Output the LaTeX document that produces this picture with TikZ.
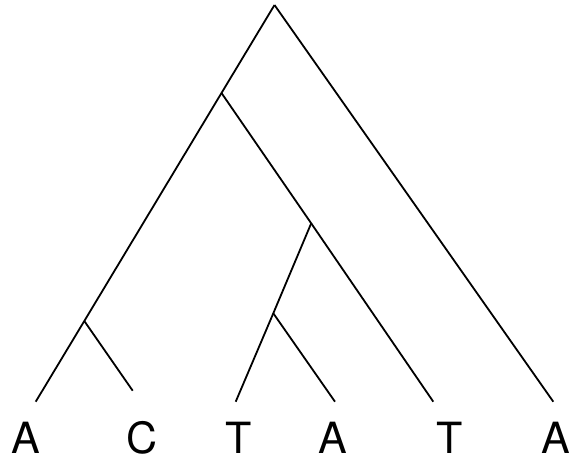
\documentclass[tikz,border=0pt]{standalone}
\usepackage{fontspec}
\setmainfont{TeX Gyre Heros}
\usepackage{tikz}
\usetikzlibrary{positioning}

\begin{document}
\begin{tikzpicture}[
  x=1pt, y=-1pt,
  branch/.style={line width=1.8pt},
  leaf/.style={anchor=base, inner sep=0pt, font=\fontsize{43}{43}\selectfont}
]
\useasboundingbox (0,0) rectangle (570,459);
% inner points of the tree
\coordinate (root) at (274.5,5);
\coordinate (n1) at (221.5,93);
\coordinate (nac) at (84.3,321);
\coordinate (n2) at (311.2,223.3);
\coordinate (nta) at (273.3,313.3);
% branch tips
\coordinate (ta1) at (35.7,401.7);
\coordinate (tc) at (132.7,390.7);
\coordinate (tt1) at (235.7,401.7);
\coordinate (ta2) at (335,401.7);
\coordinate (tt2) at (433.3,401.7);
\coordinate (ta3) at (553.3,401.7);
% labels
\node[leaf] (a1) at (25.6,453) {A};
\node[leaf] (c) at (142,453) {C};
\node[leaf] (t1) at (238.5,453) {T};
\node[leaf] (a2) at (333,453) {A};
\node[leaf] (t2) at (450,453) {T};
\node[leaf] (a3) at (556,453) {A};

\draw[branch] (root) -- (n1) -- (nac) -- (ta1);
\draw[branch] (nac) -- (tc);
\draw[branch] (n1) -- (n2) -- (tt2);
\draw[branch] (n2) -- (nta) -- (tt1);
\draw[branch] (nta) -- (ta2);
\draw[branch] (root) -- (ta3);
\end{tikzpicture}
\end{document}
